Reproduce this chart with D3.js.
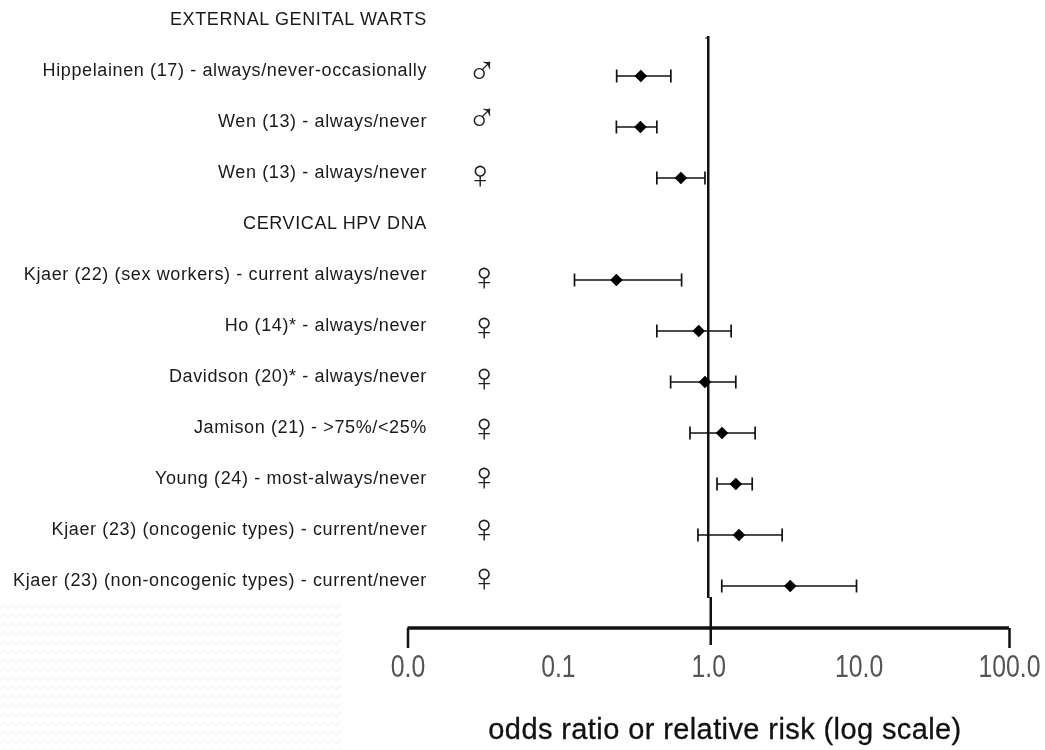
<!DOCTYPE html>
<html>
<head>
<meta charset="utf-8">
<script src="https://cdn.jsdelivr.net/npm/d3@7"></script>
<style>
  html, body { margin: 0; padding: 0; background: #fff; }
  svg { display: block; filter: blur(0.4px); }
  .label { font: 18px "Liberation Sans", Arial, sans-serif; letter-spacing: 0.62px; fill: #1a1a1a; text-anchor: end; }
  .sex { font: 40px "Liberation Sans", sans-serif; fill: #222; text-anchor: middle; }
  .tick text { font: 31px "Liberation Sans", sans-serif; fill: #555; }
  .axis-title { font: 29px "Liberation Sans", sans-serif; letter-spacing: 0.4px; fill: #111; text-anchor: middle; stroke: #111; stroke-width: 0.3; }
</style>
</head>
<body>
<div id="chart"></div>
<script>
// Rows top to bottom, headers have no estimate
const rowLabels = [
  "EXTERNAL GENITAL WARTS",
  "Hippelainen (17) - always/never-occasionally",
  "Wen (13) - always/never",
  "Wen (13) - always/never",
  "CERVICAL HPV DNA",
  "Kjaer (22) (sex workers) - current always/never",
  "Ho (14)* - always/never",
  "Davidson (20)* - always/never",
  "Jamison (21) - >75%/<25%",
  "Young (24) - most-always/never",
  "Kjaer (23) (oncogenic types) - current/never",
  "Kjaer (23) (non-oncogenic types) - current/never"
];
const sexes = [null, "♂", "♂", "♀", null, "♀", "♀", "♀", "♀", "♀", "♀", "♀"];
const estimates = [null, 0.356, 0.354, 0.658, null, 0.245, 0.864, 0.951, 1.235, 1.525, 1.60, 3.51];
const lower = [null, 0.246, 0.245, 0.455, null, 0.129, 0.455, 0.562, 0.756, 1.144, 0.854, 1.23];
const upper = [null, 0.564, 0.455, 0.951, null, 0.665, 1.42, 1.525, 2.05, 1.96, 3.10, 9.68];

// Tick values and what was printed under them
const tickValues = [0.01, 0.1, 1, 10, 100];
const tickLabels = ["0.0", "0.1", "1.0", "10.0", "100.0"];

const svgWidth = 1045;
const svgHeight = 750;

const svg = d3.select("#chart").append("svg")
  .attr("width", svgWidth)
  .attr("height", svgHeight);

const x = d3.scaleLog().domain([0.01, 100]).range([407.5, 1009]);
const y = d3.scalePoint().domain(d3.range(rowLabels.length)).range([25, 586]);

// Faint zigzag patch in the bottom left corner
const defs = svg.append("defs");
const zigzag = defs.append("pattern")
  .attr("id", "zigzag")
  .attr("patternUnits", "userSpaceOnUse")
  .attr("width", 8)
  .attr("height", 9);
zigzag.append("path")
  .attr("d", "M0,6 L4,2 L8,6")
  .attr("fill", "none")
  .attr("stroke", "#f8f8f8")
  .attr("stroke-width", 2);

svg.append("rect")
  .attr("x", 0)
  .attr("y", 600)
  .attr("width", 341)
  .attr("height", 150)
  .attr("fill", "url(#zigzag)");

// Reference line at 1.0
svg.append("line")
  .attr("x1", x(1)).attr("x2", x(1))
  .attr("y1", 36).attr("y2", 598)
  .attr("stroke", "#111")
  .attr("stroke-width", 2.5);
svg.append("line")
  .attr("x1", x(1) - 3).attr("x2", x(1))
  .attr("y1", 38).attr("y2", 38)
  .attr("stroke", "#111")
  .attr("stroke-width", 1.2);

// Row labels
svg.selectAll(".label")
  .data(rowLabels)
  .enter()
  .append("text")
  .attr("class", "label")
  .attr("x", 427)
  .attr("y", (d, i) => y(i) - 0.5)
  .text(d => d);

// The sex symbols were pasted by hand, so each one sits a bit differently
const sexX = [0, 482, 482, 480, 0, 484, 484, 484, 484, 484, 484, 484];
const sexDy = [0, 8, 4, 10, 0, 10, 9, 9, 8, 6, 7, 5];

const rows = d3.range(rowLabels.length).filter(i => estimates[i] !== null);

svg.selectAll(".sex")
  .data(rows)
  .enter()
  .append("text")
  .attr("class", "sex")
  .attr("x", i => sexX[i])
  .attr("y", i => y(i) + sexDy[i])
  .text(i => sexes[i]);

// Confidence intervals and point estimates
const ci = svg.selectAll(".ci")
  .data(rows)
  .enter()
  .append("g")
  .attr("class", "ci")
  .attr("transform", i => "translate(0," + y(i) + ")");

ci.append("line")
  .attr("x1", i => x(lower[i]))
  .attr("x2", i => x(upper[i]))
  .attr("stroke", "#111")
  .attr("stroke-width", 1.7);

ci.append("line")
  .attr("x1", i => x(lower[i]))
  .attr("x2", i => x(lower[i]))
  .attr("y1", -6.5).attr("y2", 6.5)
  .attr("stroke", "#111")
  .attr("stroke-width", 1.7);

ci.append("line")
  .attr("x1", i => x(upper[i]))
  .attr("x2", i => x(upper[i]))
  .attr("y1", -6.5).attr("y2", 6.5)
  .attr("stroke", "#111")
  .attr("stroke-width", 1.7);

ci.append("path")
  .attr("d", d3.symbol().type(d3.symbolSquare).size(80))
  .attr("transform", i => "translate(" + x(estimates[i]) + ",0) rotate(45)")
  .attr("fill", "#000");

// X axis
const bottomAxis = d3.axisBottom(x)
  .tickValues(tickValues)
  .tickFormat((d, i) => tickLabels[i])
  .tickSize(20)
  .tickPadding(7);

const xAxis = svg.append("g")
  .attr("transform", "translate(0,628)")
  .call(bottomAxis);

xAxis.select(".domain")
  .attr("d", "M" + x(0.01) + ",0H" + x(100))
  .attr("stroke", "#111")
  .attr("stroke-width", 3.5);

xAxis.selectAll(".tick line")
  .attr("stroke", "#111")
  .attr("stroke-width", 2.5)
  .attr("y1", d => (d === 1 ? -31 : 0))
  .attr("y2", d => (d === 1 ? 17 : 20))
  .attr("x1", d => (d === 1 ? 2 : 0))
  .attr("x2", d => (d === 1 ? 2 : 0))
  .style("display", d => (d === 0.1 || d === 10 ? "none" : null));

// The printed digits are tall and narrow
xAxis.selectAll(".tick text")
  .attr("transform", "scale(0.8,1)");

svg.append("text")
  .attr("class", "axis-title")
  .attr("x", 725)
  .attr("y", 739)
  .text("odds ratio or relative risk (log scale)");
</script>
</body>
</html>
